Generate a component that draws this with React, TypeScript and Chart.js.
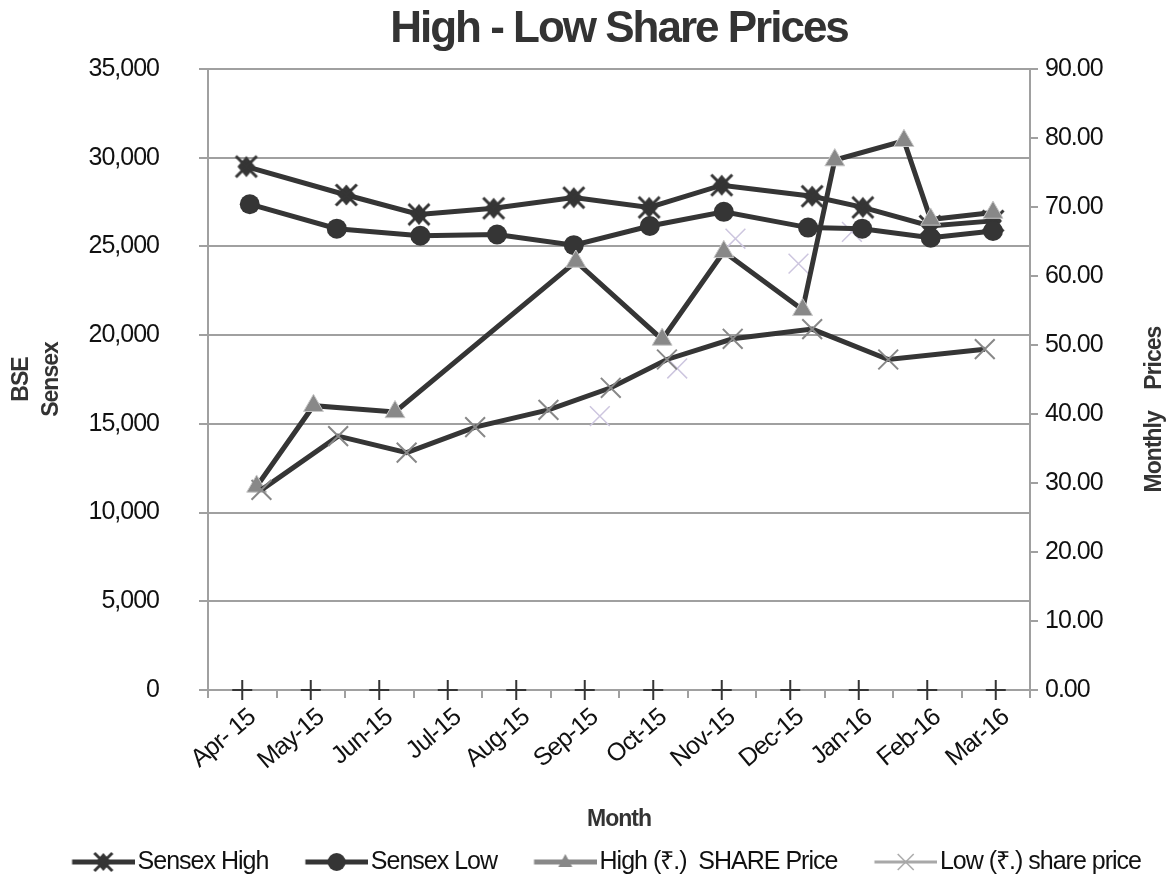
import React, { useEffect, useRef } from 'react';
import { Chart, registerables } from 'chart.js';

Chart.register(...registerables);

// Category labels (months)
const months = ['Apr- 15', 'May-15', 'Jun-15', 'Jul-15', 'Aug-15', 'Sep-15', 'Oct-15', 'Nov-15', 'Dec-15', 'Jan-16', 'Feb-16', 'Mar-16'];

// x values are in months counted from Apr-15 (fraction = position of the date inside the month)
const sensexHighX = [0.06, 1.52, 2.58, 3.67, 4.84, 5.94, 7.0, 8.32, 9.06, 10.04, 10.96];
const sensexHighY = [29500, 27900, 26800, 27150, 27750, 27200, 28450, 27830, 27200, 26150, 26440];

const sensexLowX = [0.11, 1.38, 2.6, 3.72, 4.84, 5.95, 7.03, 8.26, 9.05, 10.05, 10.96];
const sensexLowY = [27380, 26000, 25600, 25670, 25070, 26150, 26950, 26060, 26000, 25490, 25870];

const highShareX = [0.21, 1.04, 2.23, 4.87, 6.13, 7.03, 8.18, 8.65, 9.66, 10.05, 10.96];
const highShareY = [29.5, 41.2, 40.3, 62.1, 50.8, 63.5, 55.1, 76.8, 79.6, 68.2, 69.2];

const lowShareX = [0.28, 1.4, 2.4, 3.4, 4.47, 5.38, 6.2, 7.16, 8.32, 9.43, 10.84];
const lowShareY = [29.0, 36.8, 34.4, 38.1, 40.6, 43.8, 47.9, 50.9, 52.3, 47.9, 49.4];

const lowShareAltX = [5.22, 6.35, 7.2, 8.12, 8.9];
const lowShareAltY = [39.7, 46.6, 65.4, 61.8, 66.4];

const baseX = [0, 1, 2, 3, 4, 5, 6, 7, 8, 9, 10, 11];
const baseY = [0, 0, 0, 0, 0, 0, 0, 0, 0, 0, 0, 0];

const legendTexts = ['Sensex High', 'Sensex Low', 'High (₹.)  SHARE Price', 'Low (₹.) share price'];

const FONT = "'Liberation Sans', Arial, sans-serif";
const DARK = '#353535';
const GRAY = '#888888';
const AXIS = '#a0a0a0';

const pts = (xs: number[], ys: number[]) => xs.map((x, i) => ({ x, y: ys[i] }));

function drawHighMarker(ctx: CanvasRenderingContext2D, cx: number, cy: number, s: number, color: string) {
  ctx.fillStyle = color;
  ctx.strokeStyle = color;
  ctx.beginPath();
  ctx.moveTo(cx, cy - s);
  ctx.lineTo(cx + s * 0.85, cy);
  ctx.lineTo(cx, cy + s);
  ctx.lineTo(cx - s * 0.85, cy);
  ctx.closePath();
  ctx.fill();
  ctx.lineWidth = 3;
  ctx.beginPath();
  ctx.moveTo(cx - s, cy - s);
  ctx.lineTo(cx + s, cy + s);
  ctx.moveTo(cx + s, cy - s);
  ctx.lineTo(cx - s, cy + s);
  ctx.stroke();
}

function makeCanvas(w: number, h: number) {
  const c = document.createElement('canvas');
  c.width = w;
  c.height = h;
  return c;
}

const LEG_W = 90;
const LEG_EXT = 9.5;

function legendIcon(kind: number) {
  const IW = LEG_W + 2 * LEG_EXT;
  const c = makeCanvas(IW, 26);
  const ctx = c.getContext('2d')!;
  const x0 = 37 + LEG_EXT;
  const x1 = IW;
  const cy = 13;
  const cx = (x0 + x1) / 2;
  if (kind === 0 || kind === 1) {
    ctx.strokeStyle = DARK;
    ctx.lineWidth = 5;
  } else if (kind === 2) {
    ctx.strokeStyle = GRAY;
    ctx.lineWidth = 5;
  } else {
    ctx.strokeStyle = '#a8a8a8';
    ctx.lineWidth = 3;
  }
  ctx.beginPath();
  ctx.moveTo(x0, cy);
  ctx.lineTo(x1, cy);
  ctx.stroke();
  if (kind === 0) {
    drawHighMarker(ctx, cx, cy, 9, DARK);
  } else if (kind === 1) {
    ctx.fillStyle = DARK;
    ctx.beginPath();
    ctx.arc(cx, cy, 9, 0, Math.PI * 2);
    ctx.fill();
  } else if (kind === 2) {
    ctx.fillStyle = GRAY;
    ctx.beginPath();
    ctx.moveTo(cx, cy - 8);
    ctx.lineTo(cx + 7, cy + 5);
    ctx.lineTo(cx - 7, cy + 5);
    ctx.closePath();
    ctx.fill();
  } else {
    ctx.strokeStyle = '#a8a8a8';
    ctx.lineWidth = 1.5;
    ctx.beginPath();
    ctx.moveTo(cx - 8, cy - 8);
    ctx.lineTo(cx + 8, cy + 8);
    ctx.moveTo(cx + 8, cy - 8);
    ctx.lineTo(cx - 8, cy + 8);
    ctx.stroke();
  }
  return c;
}

const isWhole = (v: number) => Math.abs(v - Math.round(v)) < 1e-6;

export default function App() {
  const ref = useRef<HTMLCanvasElement>(null);

  useEffect(() => {
    document.body.style.margin = '0';
    const canvas = ref.current;
    if (!canvas) return;

    const highMarker = makeCanvas(26, 26);
    drawHighMarker(highMarker.getContext('2d')!, 13, 13, 10.5, DARK);
    const icons = [0, 1, 2, 3].map(legendIcon);

    const setSpacing = (chart: any) => {
      (chart.ctx as any).letterSpacing = '-1px';
    };

    const textTuning = {
      id: 'textTuning',
      beforeUpdate: setSpacing,
      beforeRender: setSpacing,
      beforeDraw: setSpacing,
      afterLayout(chart: any) {
        const tb = chart.titleBlock;
        if (tb && !tb.__patched) {
          const orig = tb.draw.bind(tb);
          tb.draw = (...args: any[]) => {
            const ctx = chart.ctx as any;
            const prev = ctx.letterSpacing;
            ctx.letterSpacing = '-2px';
            orig(...args);
            ctx.letterSpacing = prev;
          };
          tb.__patched = true;
        }
      },
    };

    const rightTitle = {
      id: 'rightTitle',
      afterDraw(chart: any) {
        const s = chart.scales.y1;
        const ctx = chart.ctx as CanvasRenderingContext2D;
        const area = chart.chartArea;
        ctx.save();
        (ctx as any).letterSpacing = '-1px';
        ctx.translate(s.right - 21, (area.top + area.bottom) / 2 + 30);
        ctx.rotate(-Math.PI / 2);
        ctx.font = `bold 23px ${FONT}`;
        ctx.fillStyle = '#333333';
        ctx.textAlign = 'center';
        ctx.textBaseline = 'middle';
        ctx.fillText('Monthly    Prices', 0, 0);
        ctx.restore();
      },
    };

    const chart = new Chart(canvas, {
      type: 'line',
      data: {
        datasets: [
          {
            label: legendTexts[0],
            data: pts(sensexHighX, sensexHighY),
            yAxisID: 'y',
            borderColor: DARK,
            borderWidth: 5,
            pointStyle: highMarker as any,
            pointRadius: 10,
            order: 4,
          },
          {
            label: legendTexts[1],
            data: pts(sensexLowX, sensexLowY),
            yAxisID: 'y',
            borderColor: DARK,
            borderWidth: 5,
            pointStyle: 'circle',
            pointRadius: 10,
            pointBackgroundColor: DARK,
            pointBorderColor: DARK,
            pointBorderWidth: 0,
            order: 3,
          },
          {
            label: legendTexts[2],
            data: pts(highShareX, highShareY),
            yAxisID: 'y1',
            borderColor: DARK,
            borderWidth: 5,
            pointStyle: 'triangle',
            pointRadius: 11.5,
            pointBackgroundColor: GRAY,
            pointBorderColor: '#c8c8c8',
            pointBorderWidth: 1,
            order: 2,
          },
          {
            label: legendTexts[3],
            data: pts(lowShareX, lowShareY),
            yAxisID: 'y1',
            borderColor: DARK,
            borderWidth: 5,
            pointStyle: 'crossRot',
            pointRadius: 14,
            pointBorderColor: GRAY,
            pointBorderWidth: 2,
            order: 1,
          },
          {
            label: 'low-alt',
            data: pts(lowShareAltX, lowShareAltY),
            yAxisID: 'y1',
            showLine: false,
            pointStyle: 'crossRot',
            pointRadius: 14,
            pointBorderColor: '#cdc6df',
            pointBorderWidth: 1.5,
            order: 5,
          },
          {
            label: 'base',
            data: pts(baseX, baseY),
            yAxisID: 'y',
            showLine: false,
            pointStyle: 'cross',
            pointRadius: 10,
            pointBorderColor: DARK,
            pointBorderWidth: 2,
            clip: false as any,
            order: 0,
          },
        ],
      },
      options: {
        responsive: true,
        maintainAspectRatio: false,
        animation: false,
        layout: { padding: { left: 0, right: 0, top: 0, bottom: -2.5 } },
        elements: { line: { tension: 0 } },
        plugins: {
          tooltip: { enabled: false },
          title: {
            display: true,
            text: 'High - Low Share Prices',
            fullSize: false,
            color: '#333333',
            font: { family: FONT, size: 44, weight: 'bold', lineHeight: 1.2 },
            padding: { top: 3.6, bottom: 12.6 },
          },
          legend: {
            position: 'bottom',
            labels: {
              usePointStyle: true,
              pointStyleWidth: LEG_W,
              padding: 0,
              color: '#111111',
              font: { family: FONT, size: 25 },
              generateLabels: () =>
                legendTexts.map((text, i) => ({
                  text,
                  pointStyle: icons[i] as any,
                  fillStyle: 'transparent',
                  strokeStyle: 'transparent',
                  lineWidth: 0,
                  hidden: false,
                  datasetIndex: i,
                  fontColor: '#111111',
                })),
            },
          },
        },
        scales: {
          x: {
            type: 'linear',
            position: 'bottom',
            min: -0.5,
            max: 11.5,
            afterFit: (s: any) => {
              s.height = 159.5;
            },
            ticks: {
              stepSize: 0.5,
              autoSkip: false,
              minRotation: 40,
              maxRotation: 40,
              padding: 5,
              labelOffset: 10,
              color: '#111111',
              font: { family: FONT, size: 25 },
              callback: (v: any) => (isWhole(Number(v)) ? months[Math.round(Number(v))] : ''),
            },
            grid: {
              drawOnChartArea: false,
              drawTicks: true,
              tickLength: 8,
              lineWidth: 2,
              color: (c: any) => (c.tick && isWhole(c.tick.value) ? 'rgba(0,0,0,0)' : AXIS),
            },
            border: { display: true, color: AXIS, width: 2 },
            title: {
              display: true,
              text: 'Month',
              color: '#333333',
              font: { family: FONT, size: 23, weight: 'bold', lineHeight: 1.2 },
              padding: { top: 0, bottom: 16 },
            },
          },
          y: {
            type: 'linear',
            position: 'left',
            min: 0,
            max: 35000,
            afterFit: (s: any) => {
              s.width = 208;
            },
            ticks: {
              stepSize: 5000,
              padding: 40,
              color: '#111111',
              font: { family: FONT, size: 25 },
              callback: (v: any) => Number(v).toLocaleString('en-US'),
            },
            grid: {
              color: AXIS,
              lineWidth: 2,
              tickLength: 9,
            },
            border: { display: true, color: AXIS, width: 2 },
            title: {
              display: true,
              text: ['BSE', 'Sensex'],
              color: '#333333',
              font: { family: FONT, size: 23, weight: 'bold', lineHeight: 1.304 },
              padding: { top: 7, bottom: 0 },
            },
          },
          y1: {
            type: 'linear',
            position: 'right',
            min: 0,
            max: 90,
            afterFit: (s: any) => {
              s.width = 146;
            },
            ticks: {
              stepSize: 10,
              padding: 7,
              color: '#111111',
              font: { family: FONT, size: 25 },
              callback: (v: any) => Number(v).toFixed(2),
            },
            grid: {
              drawOnChartArea: false,
              color: AXIS,
              lineWidth: 2,
              tickLength: 8,
            },
            border: { display: true, color: AXIS, width: 2 },
            title: { display: false },
          },
        },
      },
      plugins: [textTuning, rightTitle],
    } as any);

    return () => chart.destroy();
  }, []);

  return (
    <div style={{ width: 1176, height: 882, position: 'relative' }}>
      <canvas ref={ref} />
    </div>
  );
}
